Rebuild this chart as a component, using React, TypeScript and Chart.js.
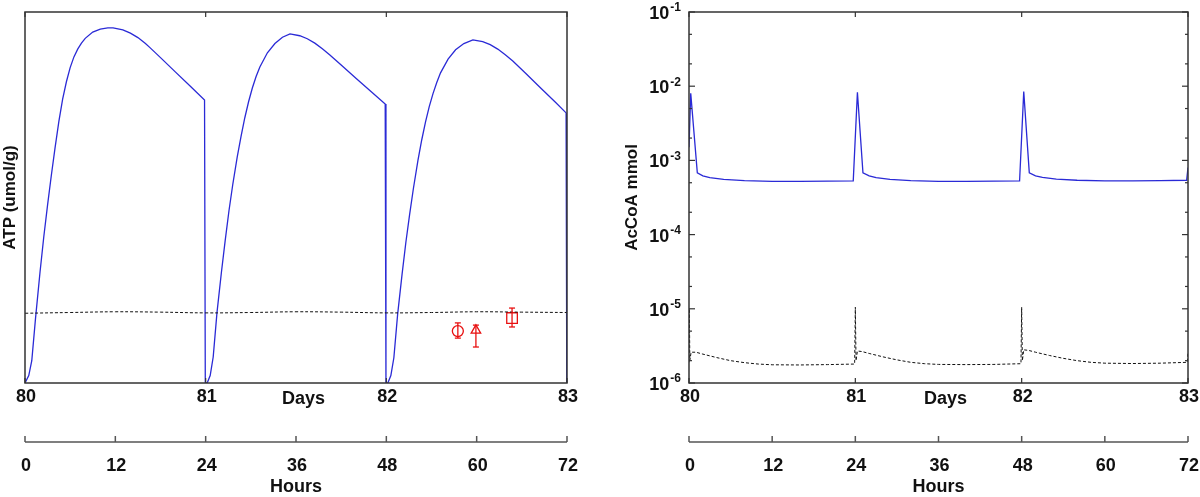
import React, { useEffect, useRef } from 'react';
import { Chart, registerables } from 'chart.js';

Chart.register(...registerables);

const FONT = '"Liberation Sans", Arial, Helvetica, sans-serif';
const BLUE = '#2a2ad6';
const RED = '#e81010';
const DARK = '#111111';

// ---- axis ticks / labels ----
const dayTicks = [0, 24, 48, 72];
const dayLabels = ['80', '81', '82', '83'];
const hourTicks = [0, 12, 24, 36, 48, 60, 72];
const hourLabels = ['0', '12', '24', '36', '48', '60', '72'];
const logTicks = [1e-6, 1e-5, 1e-4, 1e-3, 1e-2, 1e-1];
const logExponents = ['-6', '-5', '-4', '-3', '-2', '-1'];
const logMinorFactors = [2, 5];

// ---- left panel: ATP (arbitrary, unlabeled y units) ----
const atpHours = [
  0, 0.5, 0.9, 1.4, 2.0, 2.5, 3.0, 3.5, 4.0, 4.5, 5.0, 5.5, 6.0, 6.5, 7.0, 7.5, 8.0, 9.0, 10.0, 11.0, 11.7, 13.0, 14.0, 15.0, 16.0, 16.6, 18.0, 20.0, 22.0, 23.85, 23.95,
  24.2, 24.6, 25.0, 25.5, 26.1, 26.6, 27.1, 27.6, 28.2, 28.7, 29.2, 29.7, 30.2, 30.7, 31.2, 32.2, 33.2, 34.2, 35.2, 36.5, 37.5, 38.5, 39.5, 40.5, 42.0, 44.0, 46.0, 47.85, 47.95,
  48.2, 48.6, 49.0, 49.5, 50.1, 50.6, 51.1, 51.6, 52.2, 52.7, 53.2, 53.7, 54.2, 54.7, 55.2, 56.2, 57.2, 58.3, 59.5, 60.8, 61.8, 62.8, 63.8, 64.8, 66.5, 68.5, 70.5, 71.88, 71.97,
];
const atpValues = [
  0, 0.02, 0.06, 0.175, 0.3, 0.395, 0.48, 0.56, 0.635, 0.705, 0.765, 0.812, 0.85, 0.879, 0.9, 0.916, 0.929, 0.946, 0.954, 0.957, 0.957, 0.952, 0.943, 0.931, 0.915, 0.904, 0.877, 0.838, 0.799, 0.763, 0,
  0, 0.02, 0.07, 0.189, 0.3, 0.385, 0.465, 0.535, 0.61, 0.665, 0.715, 0.758, 0.795, 0.826, 0.852, 0.89, 0.915, 0.932, 0.941, 0.936, 0.928, 0.916, 0.901, 0.884, 0.857, 0.821, 0.785, 0.752, 0,
  0, 0.02, 0.068, 0.185, 0.295, 0.38, 0.455, 0.525, 0.6, 0.655, 0.703, 0.745, 0.78, 0.81, 0.836, 0.873, 0.898, 0.915, 0.925, 0.92, 0.912, 0.9, 0.885, 0.868, 0.835, 0.795, 0.756, 0.728, 0,
];
const atpRefHours = [0, 6, 12, 18, 24, 30, 36, 42, 48, 54, 60, 66, 72];
const atpRefValues = [0.188, 0.19, 0.192, 0.191, 0.189, 0.19, 0.192, 0.191, 0.189, 0.19, 0.192, 0.191, 0.19];

const expHours = [57.5, 59.9, 64.7];
const expValues = [0.14, 0.142, 0.175];
const expLow = [0.121, 0.097, 0.151];
const expHigh = [0.162, 0.156, 0.202];
const expStyles = ['circle', 'triangle', 'rect'];
const expRadii = [5.5, 5.5, 7.5];

// ---- right panel: AcCoA mmol (log) ----
const acHours = [
  0, 0.25, 1.2, 2.0, 3.0, 5.0, 8.0, 12.0, 16.0, 20.0, 23.7,
  24.3, 25.1, 26.0, 27.0, 29.0, 32.0, 36.0, 40.0, 44.0, 47.7,
  48.3, 49.1, 50.0, 51.0, 53.0, 56.0, 60.0, 64.0, 68.0, 71.8, 72.0,
];
const acValues = [
  1.5e-3, 8.0e-3, 6.8e-4, 6.2e-4, 5.85e-4, 5.55e-4, 5.35e-4, 5.2e-4, 5.2e-4, 5.25e-4, 5.3e-4,
  8.3e-3, 6.8e-4, 6.2e-4, 5.85e-4, 5.55e-4, 5.35e-4, 5.2e-4, 5.2e-4, 5.25e-4, 5.3e-4,
  8.5e-3, 6.8e-4, 6.2e-4, 5.9e-4, 5.6e-4, 5.4e-4, 5.3e-4, 5.3e-4, 5.35e-4, 5.4e-4, 8.0e-4,
];
const acRefHours = [
  0, 0.05, 0.12, 0.3, 1.0, 2.0, 4.0, 6.0, 8.0, 10.0, 12.0, 16.0, 20.0, 23.9,
  24.0, 24.1, 24.3, 25.0, 26.0, 28.0, 30.0, 32.0, 34.0, 36.0, 40.0, 44.0, 47.9,
  48.0, 48.1, 48.3, 49.0, 50.0, 52.0, 54.0, 56.0, 58.0, 60.0, 64.0, 68.0, 71.9, 72.0,
];
const acRefValues = [
  1.9e-6, 1.0e-5, 2.0e-6, 2.6e-6, 2.6e-6, 2.45e-6, 2.2e-6, 2.0e-6, 1.88e-6, 1.8e-6, 1.76e-6, 1.75e-6, 1.77e-6, 1.8e-6,
  1.05e-5, 2.0e-6, 2.7e-6, 2.65e-6, 2.5e-6, 2.25e-6, 2.05e-6, 1.9e-6, 1.82e-6, 1.78e-6, 1.77e-6, 1.78e-6, 1.82e-6,
  1.05e-5, 2.0e-6, 2.8e-6, 2.75e-6, 2.6e-6, 2.35e-6, 2.15e-6, 2.0e-6, 1.9e-6, 1.85e-6, 1.83e-6, 1.85e-6, 1.9e-6, 2.6e-6,
];

const pts = (xs: number[], ys: number[]) => xs.map((x, i) => ({ x, y: ys[i] }));

type DecorCfg = { yTitle: string; yTitleX: number; log: boolean; errorBars: boolean };

function makeDecor(cfg: DecorCfg) {
  return {
    id: 'decor',
    afterDatasetsDraw(chart: any) {
      const { ctx, scales } = chart;
      const xs = scales.x;
      const ys = scales.y;
      const line = (x1: number, y1: number, x2: number, y2: number) => {
        ctx.beginPath();
        ctx.moveTo(x1, y1);
        ctx.lineTo(x2, y2);
        ctx.stroke();
      };
      ctx.save();
      if (cfg.errorBars) {
        ctx.strokeStyle = RED;
        ctx.lineWidth = 1.3;
        expHours.forEach((h, i) => {
          const px = xs.getPixelForValue(h);
          const lo = ys.getPixelForValue(expLow[i]);
          const hi = ys.getPixelForValue(expHigh[i]);
          line(px, lo, px, hi);
          line(px - 3, lo, px + 3, lo);
          line(px - 3, hi, px + 3, hi);
        });
      }
      ctx.restore();
    },
    afterDraw(chart: any) {
      const { ctx, chartArea: a, scales } = chart;
      const xs = scales.x;
      const ys = scales.y;
      const line = (x1: number, y1: number, x2: number, y2: number) => {
        ctx.beginPath();
        ctx.moveTo(x1, y1);
        ctx.lineTo(x2, y2);
        ctx.stroke();
      };
      ctx.save();
      // frame
      ctx.strokeStyle = '#333';
      ctx.lineWidth = 1.5;
      ctx.strokeRect(a.left, a.top, a.right - a.left, a.bottom - a.top);
      // inner x ticks
      ctx.lineWidth = 1.2;
      dayTicks.forEach((t) => {
        const px = xs.getPixelForValue(t);
        line(px, a.top, px, a.top + 5);
        line(px, a.bottom, px, a.bottom - 5);
      });
      // log y ticks
      if (cfg.log) {
        logTicks.forEach((v, i) => {
          const py = ys.getPixelForValue(v);
          line(a.left, py, a.left + 6, py);
          line(a.right, py, a.right - 6, py);
          if (i < logTicks.length - 1) {
            logMinorFactors.forEach((f) => {
              const pm = ys.getPixelForValue(v * f);
              line(a.left, pm, a.left + 3, pm);
              line(a.right, pm, a.right - 3, pm);
            });
          }
        });
      }
      ctx.fillStyle = DARK;
      ctx.textBaseline = 'middle';
      // day labels
      ctx.font = `bold 18px ${FONT}`;
      ctx.textAlign = 'center';
      dayTicks.forEach((t, i) => {
        ctx.fillText(dayLabels[i], xs.getPixelForValue(t) + 1, a.bottom + 14);
      });
      ctx.fillText('Days', xs.getPixelForValue(37), a.bottom + 16);
      // hours axis
      const hy = a.bottom + 59;
      ctx.strokeStyle = '#555';
      ctx.lineWidth = 1.5;
      line(a.left, hy, a.right, hy);
      hourTicks.forEach((t, i) => {
        const px = xs.getPixelForValue(t);
        line(px, hy, px, hy - 6);
        ctx.fillText(hourLabels[i], px + 1, hy + 24);
      });
      ctx.fillText('Hours', (a.left + a.right) / 2, hy + 45);
      // y title
      ctx.save();
      ctx.font = `bold 17px ${FONT}`;
      ctx.translate(cfg.yTitleX, (a.top + a.bottom) / 2);
      ctx.rotate(-Math.PI / 2);
      ctx.fillText(cfg.yTitle, 0, 0);
      ctx.restore();
      // log tick labels
      if (cfg.log) {
        logTicks.forEach((v, i) => {
          const py = ys.getPixelForValue(v) + 2;
          ctx.textAlign = 'right';
          ctx.font = `bold 12px ${FONT}`;
          const supW = ctx.measureText(logExponents[i]).width;
          ctx.fillText(logExponents[i], a.left - 8, py - 6);
          ctx.font = `bold 18px ${FONT}`;
          ctx.fillText('10', a.left - 8 - supW - 1, py);
        });
      }
      ctx.restore();
    },
  };
}

const baseOptions = (padding: any, yScale: any) => ({
  responsive: false,
  animation: false as const,
  events: [] as any[],
  layout: { padding },
  plugins: { legend: { display: false }, tooltip: { enabled: false } },
  scales: {
    x: { type: 'linear' as const, min: 0, max: 72, display: false },
    y: yScale,
  },
});

export default function App() {
  const leftRef = useRef<HTMLCanvasElement>(null);
  const rightRef = useRef<HTMLCanvasElement>(null);

  useEffect(() => {
    const left = new Chart(leftRef.current as HTMLCanvasElement, {
      type: 'line',
      data: {
        datasets: [
          {
            data: pts(atpRefHours, atpRefValues),
            borderColor: DARK,
            borderWidth: 1,
            borderDash: [3, 2],
            pointRadius: 0,
            tension: 0.4,
          },
          {
            data: pts(atpHours, atpValues),
            borderColor: BLUE,
            borderWidth: 1.3,
            pointRadius: 0,
            tension: 0,
          },
          {
            data: pts(expHours, expValues),
            showLine: false,
            pointStyle: expStyles as any,
            pointRadius: expRadii,
            pointBorderColor: RED,
            pointBackgroundColor: 'rgba(0,0,0,0)',
            pointBorderWidth: 1.3,
          },
        ],
      } as any,
      options: baseOptions({ left: 25, right: 33, top: 12, bottom: 114 }, { min: 0, max: 1, display: false }) as any,
      plugins: [makeDecor({ yTitle: 'ATP (umol/g)', yTitleX: 10, log: false, errorBars: true })],
    });

    const right = new Chart(rightRef.current as HTMLCanvasElement, {
      type: 'line',
      data: {
        datasets: [
          {
            data: pts(acRefHours, acRefValues),
            borderColor: DARK,
            borderWidth: 1,
            borderDash: [3, 2],
            pointRadius: 0,
          },
          {
            data: pts(acHours, acValues),
            borderColor: BLUE,
            borderWidth: 1.3,
            pointRadius: 0,
          },
        ],
      } as any,
      options: baseOptions({ left: 89, right: 12, top: 12, bottom: 114 }, {
        type: 'logarithmic',
        min: 1e-6,
        max: 1e-1,
        display: false,
      }) as any,
      plugins: [makeDecor({ yTitle: 'AcCoA mmol', yTitleX: 32, log: true, errorBars: false })],
    });

    return () => {
      left.destroy();
      right.destroy();
    };
  }, []);

  return (
    <div style={{ position: 'absolute', left: 0, top: 0, width: 1200, height: 497, background: '#fff', overflow: 'hidden' }}>
      <canvas ref={leftRef} width={600} height={497} style={{ position: 'absolute', left: 0, top: 0 }} />
      <canvas ref={rightRef} width={600} height={497} style={{ position: 'absolute', left: 600, top: 0 }} />
    </div>
  );
}
